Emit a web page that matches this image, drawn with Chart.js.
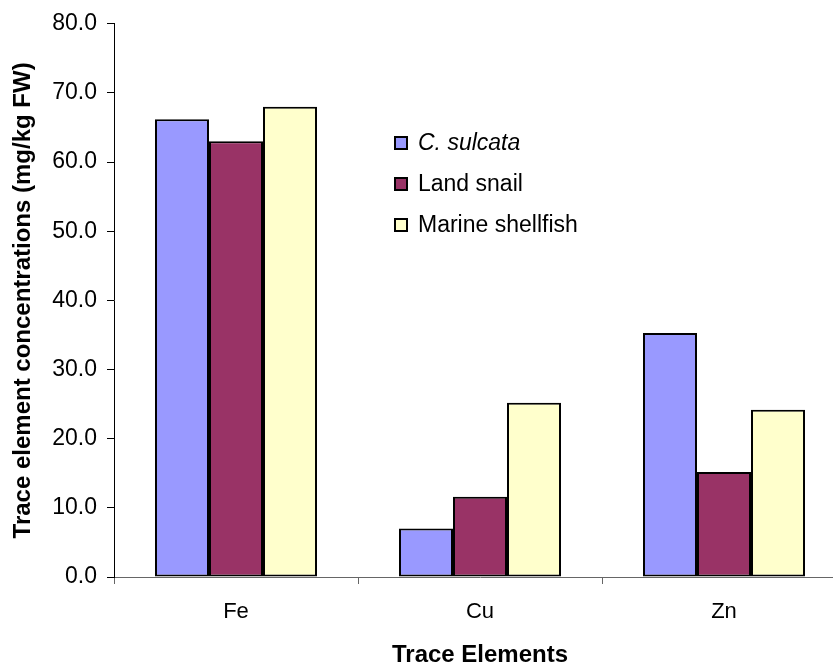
<!DOCTYPE html>
<html>
<head>
<meta charset="utf-8">
<script src="https://cdn.jsdelivr.net/npm/chart.js@4/dist/chart.umd.min.js"></script>
<style>
  html, body { margin: 0; padding: 0; background: #fff; overflow: hidden; }
  #wrap { width: 850px; height: 667px; }
</style>
</head>
<body>
<div id="wrap"><canvas id="chart" width="850" height="667"></canvas></div>
<script>
// Trace element concentrations by species (mg/kg FW)
const categories = ['Fe', 'Cu', 'Zn'];
const seriesNames = ['C. sulcata', 'Land snail', 'Marine shellfish'];
const cSulcata = [66.2, 7.0, 35.3];
const landSnail = [63.0, 11.6, 15.2];
const marineShellfish = [68.0, 25.2, 24.2];
const yTickValues = [0, 10, 20, 30, 40, 50, 60, 70, 80];

const colors = ['#9999FF', '#993366', '#FFFFCC'];
const FONT = '"Liberation Sans", Arial, sans-serif';

const datasets = [cSulcata, landSnail, marineShellfish].map((vals, i) => ({
  label: seriesNames[i],
  data: vals,
  backgroundColor: colors[i],
  borderColor: '#000',
  borderWidth: 2,
  borderSkipped: false,
  categoryPercentage: 0.664,
  barPercentage: 1.0
}));

// Legend drawn inside the plot area, to the right of the Fe group
const insideLegend = {
  id: 'insideLegend',
  afterDraw(chart) {
    const ctx = chart.ctx;
    const x0 = 395, rows = [143, 184, 225], box = 12;
    ctx.save();
    chart.data.datasets.forEach((ds, i) => {
      const cy = rows[i];
      ctx.fillStyle = ds.backgroundColor;
      ctx.fillRect(x0, cy - box / 2, box, box);
      ctx.lineWidth = 2;
      ctx.strokeStyle = '#000';
      ctx.strokeRect(x0, cy - box / 2, box, box);
      ctx.fillStyle = '#000';
      ctx.textBaseline = 'middle';
      ctx.textAlign = 'left';
      ctx.font = (i === 0 ? 'italic ' : '') + '23px ' + FONT;
      ctx.fillText(ds.label, x0 + 23, cy + 1);
    });
    ctx.restore();
  }
};

new Chart(document.getElementById('chart'), {
  type: 'bar',
  data: { labels: categories, datasets },
  options: {
    responsive: false,
    animation: false,
    layout: { padding: { top: 23, right: 4, left: 0, bottom: 0 } },
    plugins: { legend: { display: false }, tooltip: { enabled: false } },
    scales: {
      x: {
        offset: true,
        grid: { display: true, offset: true, drawOnChartArea: false, color: '#666', tickLength: 7, lineWidth: 1 },
        border: { display: true, color: '#666', width: 1 },
        ticks: { color: '#000', font: { family: FONT, size: 22 }, padding: 15 },
        title: { display: true, text: 'Trace Elements', color: '#000', font: { family: FONT, size: 24, weight: 'bold', lineHeight: 1 }, padding: { top: 0, bottom: 0 } },
        afterFit(scale) { scale.height = 90; }
      },
      y: {
        min: 0,
        max: 80,
        afterBuildTicks(scale) { scale.ticks = yTickValues.map(v => ({ value: v })); },
        grid: { display: true, drawOnChartArea: false, color: '#000', tickLength: 7, lineWidth: 1 },
        border: { display: true, color: '#000', width: 1 },
        ticks: { color: '#000', font: { family: FONT, size: 23 }, padding: 10, callback: v => Number(v).toFixed(1) },
        title: { display: true, text: 'Trace element concentrations (mg/kg FW)', color: '#000', font: { family: FONT, size: 24, weight: 'bold', lineHeight: 1 }, padding: { top: 11, bottom: 0 } },
        afterFit(scale) { scale.width = 114; }
      }
    }
  },
  plugins: [insideLegend]
});
</script>
</body>
</html>
